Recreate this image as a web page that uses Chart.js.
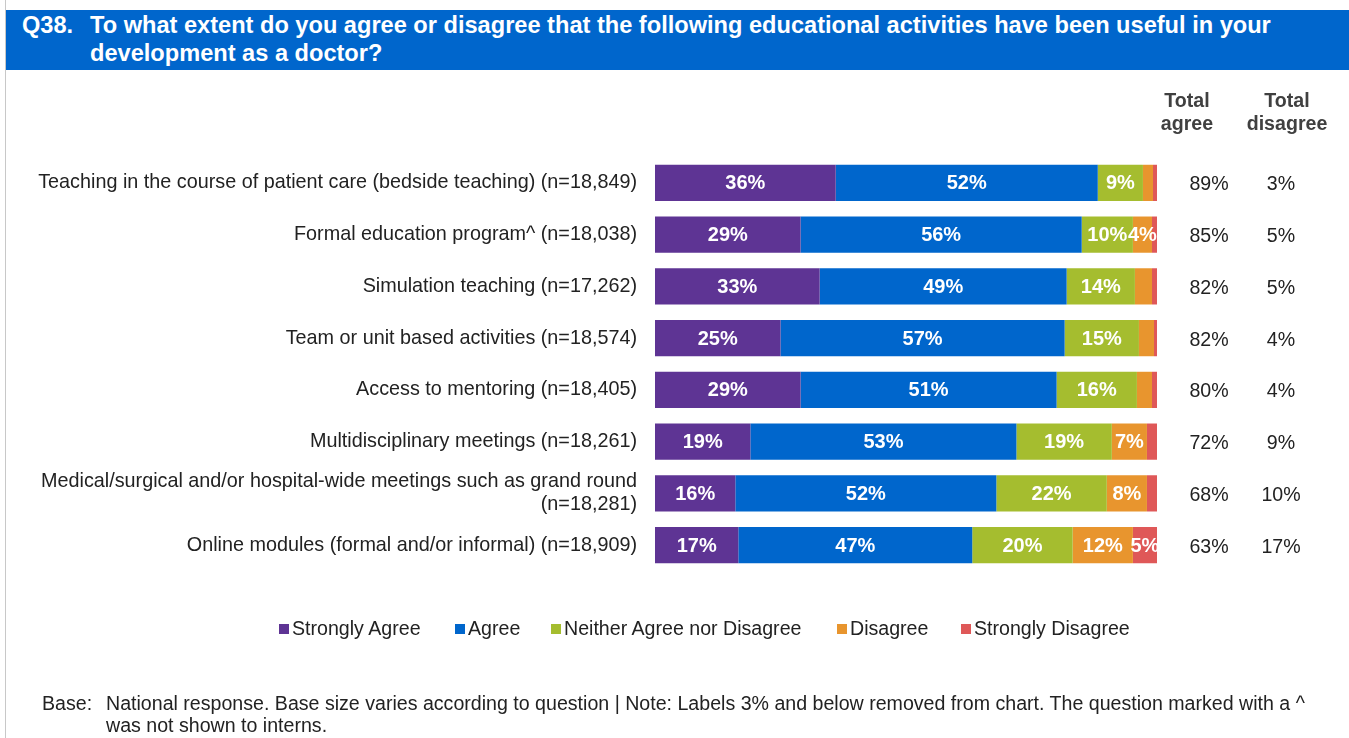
<!DOCTYPE html>
<html><head><meta charset="utf-8">
<script src="https://cdn.jsdelivr.net/npm/chart.js@4.4.1/dist/chart.umd.min.js"></script>
<style>
html,body{margin:0;padding:0;background:#fff;width:1349px;height:738px;overflow:hidden;font-family:"Liberation Sans",Arial,sans-serif;}
#frame{position:absolute;left:5px;top:0;width:1344px;height:738px;border-left:1px solid #c8c8c8;}
#title{position:absolute;left:6px;top:10px;width:1343px;height:60px;background:#0066CC;color:#fff;font-weight:bold;font-size:23.6px;line-height:28px;}
#title .q{position:absolute;left:16px;top:1px;}
#title .t{position:absolute;left:84px;top:1px;width:1220px;}
#wrap{position:absolute;left:0;top:0;width:1349px;height:738px;}
#legend{position:absolute;top:617px;left:0;width:1349px;text-align:left;font-size:19.6px;color:#222;}
#legend span{position:absolute;white-space:nowrap;}
#legend i{display:inline-block;width:10px;height:10px;margin-right:3px;vertical-align:1px;}
#foot{position:absolute;left:42px;top:692px;font-size:19.6px;color:#222;line-height:22px;white-space:nowrap;}
#foot .b{display:inline-block;width:64px;}
</style></head>
<body>
<div id="frame"></div>
<div id="wrap"><canvas id="c" width="1349" height="738"></canvas></div>
<div id="title"><span class="q">Q38.</span><span class="t">To what extent do you agree or disagree that the following educational activities have been useful in your development as a doctor?</span></div>
<div id="legend"></div>
<div id="foot"><span class="b">Base:</span>National response. Base size varies according to question | Note: Labels 3% and below removed from chart. The question marked with a ^<br><span class="b"></span>was not shown to interns.</div>
<script>
const categories = [
  "Teaching in the course of patient care (bedside teaching) (n=18,849)",
  "Formal education program^ (n=18,038)",
  "Simulation teaching (n=17,262)",
  "Team or unit based activities (n=18,574)",
  "Access to mentoring (n=18,405)",
  "Multidisciplinary meetings (n=18,261)",
  ["Medical/surgical and/or hospital-wide meetings such as grand round", "(n=18,281)"],
  "Online modules (formal and/or informal) (n=18,909)"
];
const seriesNames = ["Strongly Agree","Agree","Neither Agree nor Disagree","Disagree","Strongly Disagree"];
const stronglyAgree = [36.0, 29.0, 32.8, 25.0, 29.0, 19.0, 16.0, 16.6];
const agree         = [52.2, 56.0, 49.2, 56.6, 51.0, 53.0, 52.0, 46.6];
const neither       = [ 9.0, 10.2, 13.6, 14.8, 16.0, 19.0, 22.0, 20.0];
const disagree      = [ 2.0,  3.8,  3.4,  3.0,  3.0,  7.0,  8.0, 12.0];
const stronglyDis   = [ 0.8,  1.0,  1.0,  0.6,  1.0,  2.0,  2.0,  4.8];
const totalAgree    = ["89%","85%","82%","82%","80%","72%","68%","63%"];
const totalDisagree = ["3%","5%","5%","4%","4%","9%","10%","17%"];
const colHeaders    = [["Total","agree"],["Total","disagree"]];
const colors = ["#5E3494","#0066CC","#A5BD2F","#E8952E","#DF5858"];

const seriesData = [stronglyAgree, agree, neither, disagree, stronglyDis];
const FONT = '"Liberation Sans", Arial, sans-serif';

const legendPos = [279, 455, 551, 837, 961];
const lg = document.getElementById('legend');
seriesNames.forEach((n,i)=>{
  const s=document.createElement('span');
  s.style.left=legendPos[i]+'px';
  s.innerHTML='<i style="background:'+colors[i]+'"></i>'+n;
  lg.appendChild(s);
});

const labelPlugin = {
  id:'labels',
  afterDatasetsDraw(chart){
    const ctx=chart.ctx;
    ctx.save();
    ctx.font='bold 20px '+FONT;
    ctx.fillStyle='#fff';
    ctx.textAlign='center';
    ctx.textBaseline='middle';
    chart.data.datasets.forEach((ds,di)=>{
      const meta=chart.getDatasetMeta(di);
      meta.data.forEach((el,i)=>{
        const v=ds.data[i];
        if(Math.round(v)>3){
          const x=(el.x+el.base)/2;
          ctx.fillText(Math.round(v)+'%', x, el.y+1);
        }
      });
    });
    const ys=chart.scales.y;
    ctx.fillStyle='#222';
    ctx.font='19.6px '+FONT;
    const colX=[1209,1281];
    categories.forEach((c,i)=>{
      const y=ys.getPixelForValue(i);
      ctx.fillText(totalAgree[i], colX[0], y+2);
      ctx.fillText(totalDisagree[i], colX[1], y+2);
    });
    ctx.font='bold 19.6px '+FONT;
    ctx.fillStyle='#404040';
    const hx=[1187,1287];
    colHeaders.forEach((h,k)=>{
      ctx.fillText(h[0], hx[k], 102);
      ctx.fillText(h[1], hx[k], 125);
    });
    ctx.restore();
  }
};

new Chart(document.getElementById('c'),{
  type:'bar',
  data:{
    labels:categories,
    datasets:seriesNames.map((n,i)=>({
      label:n,
      data:seriesData[i],
      backgroundColor:colors[i],
      borderWidth:0,
      categoryPercentage:1,
      barPercentage:0.7
    }))
  },
  options:{
    indexAxis:'y',
    responsive:false,
    animation:false,
    events:[],
    layout:{padding:{left:0,top:157,right:192,bottom:167}},
    plugins:{legend:{display:false},tooltip:{enabled:false}},
    scales:{
      x:{stacked:true,min:0,max:100,display:false},
      y:{stacked:true,
         grid:{display:false},
         border:{display:false},
         ticks:{color:'#222',font:{family:FONT,size:19.8,lineHeight:1.17},padding:10},
         afterFit(s){s.width=655;}
      }
    }
  },
  plugins:[labelPlugin]
});
</script>
</body></html>
